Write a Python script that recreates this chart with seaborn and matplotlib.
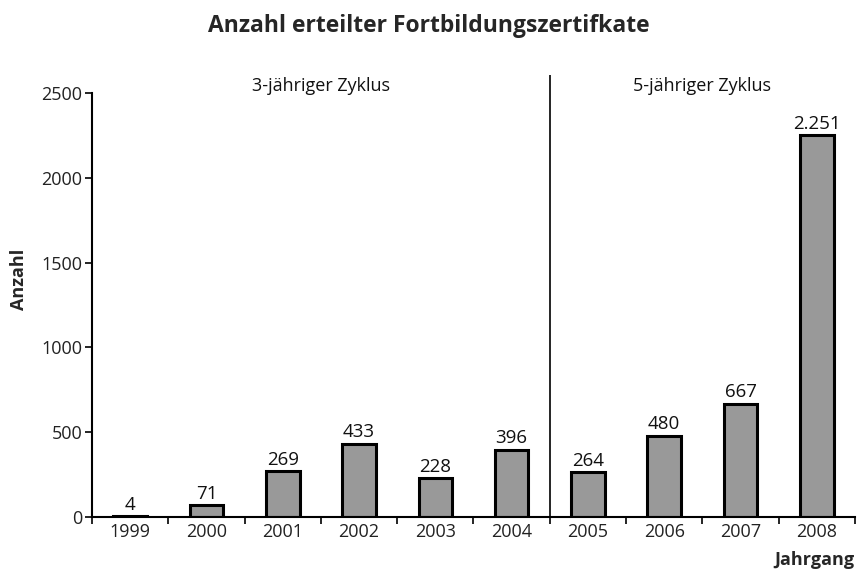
import matplotlib
matplotlib.use("Agg")
import matplotlib.pyplot as plt
import seaborn as sns
import pandas as pd

years = ["1999", "2000", "2001", "2002", "2003", "2004", "2005", "2006", "2007", "2008"]
counts = [4, 71, 269, 433, 228, 396, 264, 480, 667, 2251]
value_labels = ["4", "71", "269", "433", "228", "396", "264", "480", "667", "2.251"]
cycle_labels = ["3-jähriger Zyklus", "5-jähriger Zyklus"]
yticks = [0, 500, 1000, 1500, 2000, 2500]

sns.set_style("white")
plt.rcParams["font.family"] = ["Open Sans", "DejaVu Sans"]

df = pd.DataFrame({"Jahrgang": years, "Anzahl": counts})

fig = plt.figure(figsize=(8.58, 5.75), dpi=100)
ax = fig.add_axes([0.1072, 0.1009, 0.8893, 0.7687])

sns.barplot(data=df, x="Jahrgang", y="Anzahl", color="#999999", width=0.44,
            edgecolor="black", linewidth=2.2, saturation=1, ax=ax)

for i, (v, lab) in enumerate(zip(counts, value_labels)):
    ax.text(i, v + 14, lab, ha="center", va="bottom", fontsize=13.5, color="#111111")

ax.set_xlim(-0.5, len(years) - 0.5)
ax.set_ylim(0, 2606)
ax.set_yticks(yticks)
ax.set_yticklabels([str(t) for t in yticks], fontsize=13, color="#222222")
ax.set_xticks([i - 0.5 for i in range(len(years) + 1)], minor=False)
ax.set_xticklabels([])
ax.set_xticks(range(len(years)), minor=True)
ax.set_xticklabels(years, minor=True, fontsize=13, color="#222222")
ax.tick_params(axis="x", which="major", direction="out", length=5, width=1.2, color="black", bottom=True)
ax.tick_params(axis="x", which="minor", length=0, pad=4, bottom=True)
ax.tick_params(axis="y", direction="out", length=5, width=1.2, color="black", left=True, pad=2)

for s in ["top", "right"]:
    ax.spines[s].set_visible(False)
ax.spines["left"].set_bounds(0, 2500)
ax.spines["left"].set_linewidth(1.5)
ax.spines["bottom"].set_linewidth(1.5)
ax.spines["left"].set_color("black")
ax.spines["bottom"].set_color("black")

ax.axvline(5.5, color="black", linewidth=1.2, ymin=0, ymax=1)
ax.text(2.5, 2540, cycle_labels[0], ha="center", va="center", fontsize=13, color="#111111")
ax.text(7.5, 2540, cycle_labels[1], ha="center", va="center", fontsize=13, color="#111111")

ax.set_xlabel("")
ax.set_ylabel("")
fig.text(0.5, 0.955, "Anzahl erteilter Fortbildungszertifkate", ha="center", va="center",
         fontsize=16.5, fontweight="bold")
fig.text(0.022, 0.515, "Anzahl", rotation=90, ha="center", va="center", fontsize=13, fontweight="bold")
fig.text(0.996, 0.026, "Jahrgang", ha="right", va="center", fontsize=13, fontweight="bold")

fig.savefig("out.png", dpi=100)
